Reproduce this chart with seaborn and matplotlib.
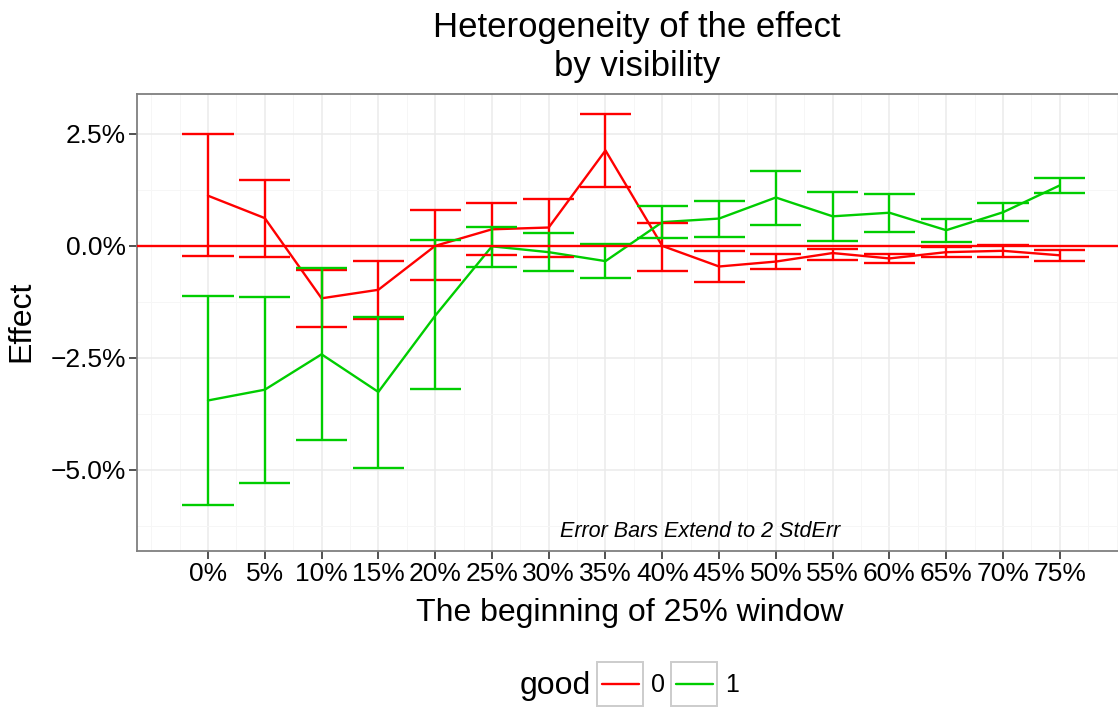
import matplotlib

matplotlib.use("Agg")
import pandas as pd
import seaborn as sns
from matplotlib import pyplot as plt
from matplotlib.legend_handler import HandlerBase
from matplotlib.lines import Line2D
from matplotlib.patches import Rectangle
from matplotlib.ticker import FixedLocator, MultipleLocator

# beginning of the 25% window (percent)
window_start = [0, 5, 10, 15, 20, 25, 30, 35, 40, 45, 50, 55, 60, 65, 70, 75]

# good = 0
effect_0 = [1.12, 0.62, -1.17, -0.98, 0.00, 0.37, 0.41, 2.13,
            0.00, -0.46, -0.35, -0.16, -0.28, -0.14, -0.11, -0.21]
low_0 = [-0.22, -0.25, -1.80, -1.64, -0.77, -0.20, -0.25, 1.32,
         -0.55, -0.81, -0.51, -0.31, -0.39, -0.25, -0.25, -0.33]
high_0 = [2.49, 1.47, -0.54, -0.34, 0.80, 0.95, 1.05, 2.95,
          0.51, -0.12, -0.18, -0.07, -0.18, -0.03, 0.02, -0.09]

# good = 1
effect_1 = [-3.45, -3.21, -2.42, -3.26, -1.56, -0.01, -0.14, -0.34,
            0.53, 0.61, 1.08, 0.66, 0.74, 0.35, 0.75, 1.35]
low_1 = [-5.78, -5.30, -4.34, -4.96, -3.20, -0.48, -0.57, -0.72,
         0.17, 0.20, 0.47, 0.10, 0.31, 0.09, 0.55, 1.18]
high_1 = [-1.12, -1.14, -0.50, -1.59, 0.13, 0.43, 0.28, 0.05,
          0.88, 1.01, 1.68, 1.20, 1.16, 0.60, 0.95, 1.52]

y_ticks = [-5.0, -2.5, 0.0, 2.5]

palette = {"0": "#FF0000", "1": "#00CD00"}
lw = 1.7


class BoxedLineHandler(HandlerBase):
    # ggplot-like legend key: grey box with a short line in it
    def create_artists(self, legend, orig_handle, xdescent, ydescent,
                       width, height, fontsize, trans):
        box = Rectangle((-xdescent, -ydescent), width, height, fill=False,
                        edgecolor="#CCCCCC", linewidth=1.4, transform=trans)
        y = -ydescent + height / 2
        line = Line2D([-xdescent + 0.1 * width, -xdescent + 0.9 * width], [y, y],
                      color=orig_handle.get_color(),
                      linewidth=orig_handle.get_linewidth(), transform=trans)
        return [box, line]


df = pd.DataFrame({
    "start": window_start * 2,
    "effect": effect_0 + effect_1,
    "low": low_0 + low_1,
    "high": high_0 + high_1,
    "good": ["0"] * len(window_start) + ["1"] * len(window_start),
})

sns.set_theme(style="whitegrid")
plt.rcParams["font.family"] = ["Liberation Sans", "DejaVu Sans"]
plt.rcParams["text.color"] = "black"

fig = plt.figure(figsize=(11.18, 7.09), dpi=100)
ax = fig.add_axes([137 / 1118, 1 - 551 / 709, 1000 / 1118, 457 / 709])

sns.lineplot(data=df, x="start", y="effect", hue="good", palette=palette,
             linewidth=lw, errorbar=None, legend=False, ax=ax, zorder=3)

cap = 2.25  # half width of error bar caps, in x units
for key, grp in df.groupby("good"):
    c = palette[key]
    ax.vlines(grp["start"], grp["low"], grp["high"], color=c, linewidth=lw, zorder=3)
    ax.hlines(grp["low"], grp["start"] - cap, grp["start"] + cap, color=c,
              linewidth=lw, zorder=3)
    ax.hlines(grp["high"], grp["start"] - cap, grp["start"] + cap, color=c,
              linewidth=lw, zorder=3)

ax.axhline(0, color="#FF0000", linewidth=lw, zorder=3)

ax.set_xlim(-6.25, 81.8)
ax.set_ylim(-6.81, 3.39)

ax.set_xticks(window_start)
ax.set_xticklabels([f"{v}%" for v in window_start])
ax.yaxis.set_major_locator(FixedLocator(y_ticks))
ax.set_yticklabels([f"{v:.1f}%".replace("-", "\u2212") for v in y_ticks])
ax.xaxis.set_minor_locator(MultipleLocator(2.5))
ax.yaxis.set_minor_locator(MultipleLocator(1.25))

ax.grid(which="major", color="#EBEBEB", linewidth=1.1)
ax.grid(which="minor", color="#F6F6F6", linewidth=0.7)
ax.set_axisbelow(True)
ax.set_facecolor("white")

ax.tick_params(axis="both", which="major", labelsize=19, length=5.5, width=1.2,
               color="#333333", labelcolor="black", bottom=True, left=True, pad=2.5)
ax.tick_params(which="minor", length=0)
for side in ["left", "bottom", "top"]:
    ax.spines[side].set_color("#7F7F7F")
    ax.spines[side].set_linewidth(1.3)
ax.spines["right"].set_visible(False)

ax.set_xlabel("")
ax.set_ylabel("")

ax.text(43.3, -6.38, "Error Bars Extend to 2 StdErr", style="italic",
        ha="center", va="center", fontsize=15.5, color="black")

fig.text(637 / 1118, 1 - 47 / 709, "Heterogeneity of the effect\nby visibility",
         ha="center", va="center", fontsize=25, linespacing=1.2)
fig.text(630 / 1118, 1 - 621 / 709, "The beginning of 25% window",
         ha="center", va="baseline", fontsize=23)
fig.text(21.5 / 1118, 1 - 321.5 / 709, "Effect", rotation=90,
         ha="center", va="center", fontsize=23)

fig.text(555 / 1118, 1 - 686 / 709, "good", ha="center", va="center", fontsize=23)
handles = [Line2D([], [], color=palette["0"], linewidth=lw),
           Line2D([], [], color=palette["1"], linewidth=lw)]
fig.legend(handles, ["0", "1"], loc="center",
           bbox_to_anchor=(668 / 1118, 1 - 684 / 709), ncol=2, frameon=False,
           fontsize=18, handlelength=1.84, handleheight=2.39, handletextpad=0.3,
           columnspacing=0.25, borderpad=0, borderaxespad=0,
           handler_map={Line2D: BoxedLineHandler()})

fig.savefig("out.png", dpi=100)
